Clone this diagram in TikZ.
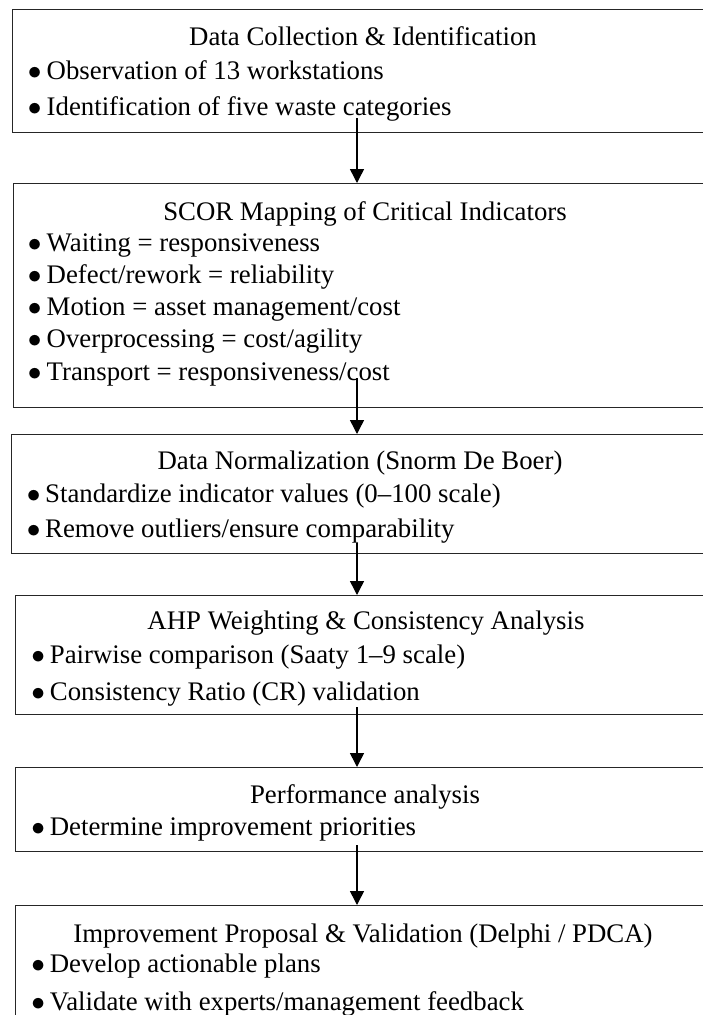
\documentclass[tikz,border=0pt]{standalone}
\usepackage{fontspec}
\setmainfont{Liberation Serif}
\usetikzlibrary{arrows.meta}
\begin{document}
\begin{tikzpicture}[x=1pt,y=-1pt,
  stagebox/.style={draw=black!85, line width=1.1pt, rectangle, inner sep=0pt, anchor=north west},
  titletext/.style={anchor=base, inner sep=0pt, font=\fontsize{26.8}{30}\selectfont},
  itemtext/.style={anchor=base west, inner sep=0pt, font=\fontsize{26.8}{30}\selectfont},
  flow/.style={line width=1.5pt, -{Triangle[length=14pt,width=14pt]}}]
\useasboundingbox (0,0) rectangle (703,1015);
\clip (0,0) rectangle (703,1015);
\fill[white] (0,0) rectangle (703,1015);
\newcommand{\itm}[2]{\makebox[#1][l]{\scalebox{1.1}{$\bullet$}}#2}
% boxes
\node[stagebox, minimum width=703.3pt, minimum height=122.7pt] (b1) at (11.7,9.3) {};
\node[stagebox, minimum width=702.3pt, minimum height=224pt] (b2) at (12.7,183) {};
\node[stagebox, minimum width=704.3pt, minimum height=119pt] (b3) at (10.7,434) {};
\node[stagebox, minimum width=700pt, minimum height=119pt] (b4) at (15,595) {};
\node[stagebox, minimum width=700pt, minimum height=84pt] (b5) at (15,767) {};
\node[stagebox, minimum width=700pt, minimum height=140pt] (b6) at (15,905) {};
% box 1
\node[titletext] (t1) at (363,45) {Data Collection \& Identification};
\node[itemtext] (t1a) at (27.6,79) {\itm{18.9pt}{Observation of 13 workstations}};
\node[itemtext] (t1b) at (27.6,115) {\itm{18.9pt}{Identification of five waste categories}};
% box 2
\node[titletext] (t2) at (365,220) {SCOR Mapping of Critical Indicators};
\node[itemtext] (t2a) at (27.6,251) {\itm{18.9pt}{Waiting = responsiveness}};
\node[itemtext] (t2b) at (27.6,283) {\itm{18.9pt}{Defect/rework = reliability}};
\node[itemtext] (t2c) at (27.6,315) {\itm{18.9pt}{Motion = asset management/cost}};
\node[itemtext] (t2d) at (27.6,347) {\itm{18.9pt}{Overprocessing = cost/agility}};
\node[itemtext] (t2e) at (27.6,380) {\itm{18.9pt}{Transport = responsiveness/cost}};
% box 3
\node[titletext] (t3) at (360,469) {Data Normalization (Snorm De Boer)};
\node[itemtext] (t3a) at (26.6,502) {\itm{18.4pt}{Standardize indicator values (0--100 scale)}};
\node[itemtext] (t3b) at (26.6,537) {\itm{18.4pt}{Remove outliers/ensure comparability}};
% box 4
\node[titletext] (t4) at (366,629) {AHP Weighting \& Consistency Analysis};
\node[itemtext] (t4a) at (31.1,663) {\itm{18.6pt}{Pairwise comparison (Saaty 1--9 scale)}};
\node[itemtext] (t4b) at (31.1,700) {\itm{18.6pt}{Consistency Ratio (CR) validation}};
% box 5
\node[titletext] (t5) at (365,803) {Performance analysis};
\node[itemtext] (t5a) at (31.1,835) {\itm{18.6pt}{Determine improvement priorities}};
% box 6
\node[titletext] (t6) at (363,942) {Improvement Proposal \& Validation (Delphi / PDCA)};
\node[itemtext] (t6a) at (31.1,972) {\itm{18.6pt}{Develop actionable plans}};
\node[itemtext] (t6b) at (31.1,1010) {\itm{18.6pt}{Validate with experts/management feedback}};
% arrows
\coordinate (a1) at (357,118);
\coordinate (a2) at (357,378);
\coordinate (a3) at (357,543);
\coordinate (a4) at (357,707);
\coordinate (a5) at (357,845);
\draw[flow] (a1) -- (a1 |- b2.north);
\draw[flow] (a2) -- (a2 |- b3.north);
\draw[flow] (a3) -- (a3 |- b4.north);
\draw[flow] (a4) -- (a4 |- b5.north);
\draw[flow] (a5) -- (a5 |- b6.north);
\end{tikzpicture}
\end{document}
